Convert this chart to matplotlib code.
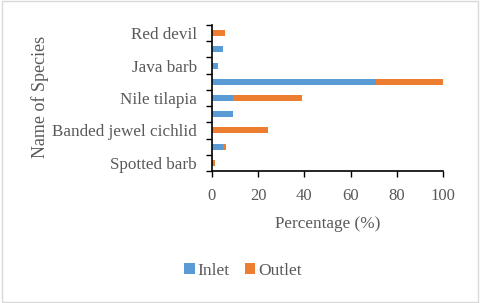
import numpy as np
import matplotlib.pyplot as plt
from matplotlib.patches import Rectangle

# Species from bottom to top (only every other name is printed on the chart)
species = ["Spotted barb", "", "Banded jewel cichlid", "", "Nile tilapia",
           "", "Java barb", "", "Red devil"]
inlet = [0, 4.6, 0, 9.2, 9.2, 70.8, 2.4, 4.6, 0]
outlet = [1.4, 1.4, 24.4, 0, 29.8, 29.2, 0, 0, 5.6]

blue = "#5B9BD5"
orange = "#ED7D31"
grey = "#595959"

plt.rcParams["font.family"] = ["Liberation Serif", "DejaVu Serif"]

fig = plt.figure(figsize=(4.8, 3.03), dpi=100)
ax = fig.add_axes([212 / 480, 1 - 171 / 303, 231 / 480, 146 / 303])

y = np.arange(len(species))
ax.barh(y, inlet, height=0.37, color=blue, label="Inlet")
ax.barh(y, outlet, left=inlet, height=0.37, color=orange, label="Outlet")

ax.set_xlim(0, 100)
ax.set_ylim(-0.5, len(species) - 0.5)
ax.set_xticks(np.arange(0, 101, 20))
ax.tick_params(axis="x", length=4, width=1, colors="black", labelcolor=grey,
               labelsize=12, pad=8)

# category boundaries get tick marks, labels sit at centres
ax.set_yticks(np.arange(-0.5, len(species), 1))
ax.set_yticklabels([])
ax.set_yticks(y, minor=True)
ax.set_yticklabels(species, minor=True)
ax.tick_params(axis="y", which="major", length=4, width=1, colors="black")
ax.tick_params(axis="y", which="minor", length=0, labelcolor=grey,
               labelsize=12.3, pad=11)

for s in ["top", "right"]:
    ax.spines[s].set_visible(False)
for s in ["left", "bottom"]:
    ax.spines[s].set_linewidth(1.2)

ax.set_xlabel("Percentage (%)", color=grey, fontsize=12.3, labelpad=9)
fig.text(40 / 480, 1 - 97 / 303, "Name of Species", color=grey, fontsize=13,
         rotation=90, ha="center", va="center")

fig.legend(loc="center", bbox_to_anchor=(243 / 480, 1 - 271 / 303), ncol=2,
           frameon=False, fontsize=12.5, labelcolor=grey, handlelength=0.6,
           handleheight=0.6, handletextpad=0.15, columnspacing=0.9)

fig.patches.append(Rectangle((0.004, 0.004), 0.992, 0.992, transform=fig.transFigure,
                             fill=False, edgecolor="#D9D9D9", linewidth=1))

fig.savefig("out.png", dpi=100)
